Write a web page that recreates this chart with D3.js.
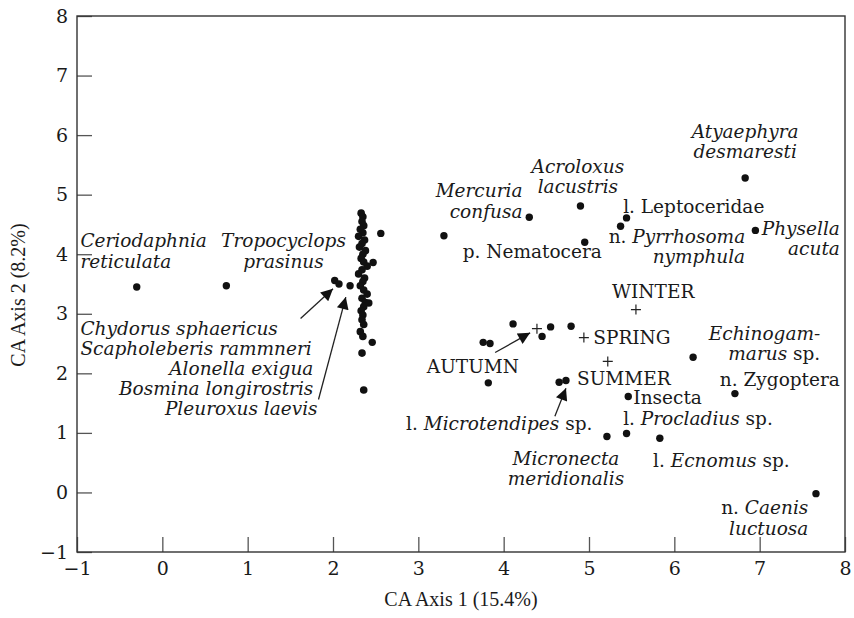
<!DOCTYPE html>
<html>
<head>
<meta charset="utf-8">
<script src="https://cdn.jsdelivr.net/npm/d3@7"></script>
<style>
    body { margin: 0; background: #fff; }
    svg { display: block; }
    .lab { font-family: "DejaVu Serif", serif; font-size: 18.5px; fill: #1a1a1a; }
    .tick text { font-family: "DejaVu Serif", serif; font-size: 19px; fill: #1a1a1a; }
    .title { font-family: "Liberation Serif", serif; font-size: 20px; fill: #1a1a1a; }
</style>
</head>
<body>
<div class="canvas"></div>
<script>
// vertical cluster of unlabeled taxa near axis 1 = 2.35
const clusterX = [2.33, 2.35, 2.34, 2.36, 2.32, 2.35, 2.30, 2.37, 2.34, 2.31, 2.38, 2.35, 2.33, 2.36, 2.40, 2.34, 2.30,
    2.37, 2.35, 2.32, 2.36, 2.40, 2.34, 2.38, 2.36, 2.33, 2.35, 2.34, 2.36, 2.32, 2.35, 2.34, 2.36]
const clusterY = [4.69, 4.63, 4.55, 4.48, 4.42, 4.36, 4.30, 4.24, 4.18, 4.12, 4.06, 4.00, 3.93, 3.87, 3.80, 3.74, 3.67,
    3.60, 3.54, 3.47, 3.40, 3.33, 3.26, 3.19, 3.12, 3.05, 2.98, 2.90, 2.82, 2.70, 2.62, 2.34, 1.72]

// other taxa
const taxaX = [2.56, 2.47, 2.42, 2.46, 2.02, 2.07, 2.20, -0.30, 0.75, 3.30, 4.30, 4.90, 4.95, 5.44, 5.37, 6.83, 6.95,
    4.11, 3.76, 3.84, 4.45, 4.55, 4.79, 3.82, 4.65, 4.73, 6.22, 5.46, 6.71, 5.21, 5.44, 5.83, 7.66]
const taxaY = [4.35, 3.86, 3.18, 2.52, 3.56, 3.50, 3.47, 3.45, 3.47, 4.31, 4.62, 4.81, 4.20, 4.61, 4.47, 5.28, 4.40,
    2.83, 2.52, 2.50, 2.62, 2.78, 2.79, 1.84, 1.85, 1.88, 2.27, 1.61, 1.66, 0.94, 0.99, 0.91, -0.02]

// season centroids
const seasons = ['WINTER', 'SPRING', 'AUTUMN', 'SUMMER']
const seasonX = [5.55, 4.94, 4.39, 5.22]
const seasonY = [3.07, 2.60, 2.75, 2.20]

// labels: text (_italic_), anchor, x, y in axis units
const labelText = ['_Ceriodaphnia_', '_reticulata_', '_Tropocyclops_', '_prasinus_',
    '_Chydorus sphaericus_', '_Scapholeberis rammneri_', '_Alonella exigua_', '_Bosmina longirostris_', '_Pleuroxus laevis_',
    '_Mercuria_', '_confusa_', '_Acroloxus_', '_lacustris_', '_Atyaephyra_', '_desmaresti_',
    'l. Leptoceridae', 'n. _Pyrrhosoma_', '_nymphula_', '_Physella_', '_acuta_', 'p. Nematocera',
    'WINTER', 'SPRING', 'AUTUMN', 'SUMMER', 'Insecta', '_Echinogam-_', '_marus_ sp.', 'n. Zygoptera',
    'l. _Microtendipes_ sp.', 'l. _Procladius_ sp.', '_Micronecta_', '_meridionalis_', 'l. _Ecnomus_ sp.',
    'n. _Caenis_', '_luctuosa_']
const labelAnchor = ['start', 'start', 'middle', 'middle',
    'start', 'start', 'end', 'end', 'end',
    'end', 'end', 'middle', 'middle', 'middle', 'middle',
    'start', 'end', 'end', 'end', 'end', 'end',
    'start', 'start', 'start', 'start', 'start', 'end', 'end', 'end',
    'end', 'start', 'middle', 'middle', 'start',
    'end', 'end']
const labelX = [-0.96, -0.96, 1.42, 1.42,
    -0.96, -0.96, 1.77, 1.77, 1.82,
    4.22, 4.22, 4.87, 4.87, 6.83, 6.83,
    5.40, 6.83, 6.83, 7.94, 7.94, 5.15,
    5.27, 5.05, 3.10, 4.86, 5.52, 7.71, 7.71, 7.94,
    5.04, 5.40, 4.73, 4.73, 5.75,
    7.57, 7.57]
const labelY = [4.12, 3.77, 4.12, 3.77,
    2.64, 2.31, 1.97, 1.64, 1.30,
    4.96, 4.61, 5.36, 5.03, 5.95, 5.62,
    4.69, 4.19, 3.85, 4.32, 3.99, 3.94,
    3.27, 2.49, 2.01, 1.80, 1.49, 2.56, 2.22, 1.79,
    1.05, 1.13, 0.46, 0.13, 0.43,
    -0.36, -0.71]

// arrows: from -> to
const arrowFrom = [[1.62, 2.92], [1.83, 1.56], [3.90, 2.35], [4.60, 1.28]]
const arrowTo = [[2.00, 3.42], [2.15, 3.28], [4.31, 2.68], [4.73, 1.75]]

const axisTicks = [-1, 0, 1, 2, 3, 4, 5, 6, 7, 8]

let width = 854,
    height = 618,
    padLeft = 77, padRight = 845, padTop = 16, padBottom = 552

let svg = d3.select('.canvas').append('svg')
    .attr('width', width)
    .attr('height', height)

let x = d3.scaleLinear().domain([-1, 8]).range([padLeft, padRight])
let y = d3.scaleLinear().domain([-1, 8]).range([padBottom, padTop])

let fmt = d => d < 0 ? '\u2212' + (-d) : d

// AXES
svg.append('g')
    .attr('transform', `translate(0, ${padBottom})`)
    .call(d3.axisBottom(x).tickValues(axisTicks).tickFormat(fmt)
        .tickSizeInner(-15).tickSizeOuter(0).tickPadding(10))
svg.append('g')
    .attr('transform', `translate(${padLeft}, 0)`)
    .call(d3.axisLeft(y).tickValues(axisTicks).tickFormat(fmt)
        .tickSizeInner(-15).tickSizeOuter(0).tickPadding(9))
svg.selectAll('.domain').remove()
svg.selectAll('.tick line').attr('stroke', '#555').attr('stroke-width', 1.3)

svg.append('rect')
    .attr('x', padLeft).attr('y', padTop)
    .attr('width', padRight - padLeft).attr('height', padBottom - padTop)
    .attr('fill', 'none').attr('stroke', '#333').attr('stroke-width', 1.4)

// TITLES
svg.append('text').classed('title', true)
    .attr('x', (padLeft + padRight) / 2).attr('y', 606)
    .attr('text-anchor', 'middle')
    .text('CA Axis 1 (15.4%)')
svg.append('text').classed('title', true)
    .attr('transform', `translate(25, 295) rotate(-90)`)
    .attr('text-anchor', 'middle')
    .text('CA Axis 2 (8.2%)')

// POINTS
svg.selectAll('.clu')
    .data(clusterX)
    .enter().append('circle').classed('clu', true)
    .attr('cx', d => x(d))
    .attr('cy', (d, i) => y(clusterY[i]))
    .attr('r', 3.8)
    .attr('fill', '#111')
svg.selectAll('.tax')
    .data(taxaX)
    .enter().append('circle').classed('tax', true)
    .attr('cx', d => x(d))
    .attr('cy', (d, i) => y(taxaY[i]))
    .attr('r', 3.7)
    .attr('fill', '#111')

// SEASON CROSSES
seasons.forEach((s, i) => {
    let cx = x(seasonX[i]), cy = y(seasonY[i])
    svg.append('path')
        .attr('d', `M${cx - 5},${cy}H${cx + 5}M${cx},${cy - 5}V${cy + 5}`)
        .attr('stroke', '#222').attr('stroke-width', 1.2)
})

// ARROWS
svg.append('defs').append('marker')
    .attr('id', 'head')
    .attr('viewBox', '0 0 10 10')
    .attr('refX', 10).attr('refY', 5)
    .attr('markerWidth', 17).attr('markerHeight', 12)
    .attr('markerUnits', 'userSpaceOnUse')
    .attr('orient', 'auto')
    .append('path').attr('d', 'M0,0L10,5L0,10Z').attr('fill', '#111')

arrowFrom.forEach((a, i) => {
    svg.append('line')
        .attr('x1', x(a[0])).attr('y1', y(a[1]))
        .attr('x2', x(arrowTo[i][0])).attr('y2', y(arrowTo[i][1]))
        .attr('stroke', '#222').attr('stroke-width', 1.3)
        .attr('marker-end', 'url(#head)')
})

// LABELS
labelText.forEach((t, i) => {
    let txt = svg.append('text').classed('lab', true)
        .attr('x', x(labelX[i])).attr('y', y(labelY[i]))
        .attr('text-anchor', labelAnchor[i])
    t.split('_').forEach((part, j) => {
        if (part === '') return
        txt.append('tspan')
            .attr('font-style', j % 2 === 1 ? 'italic' : 'normal')
            .text(part)
    })
})
</script>
</body>
</html>
